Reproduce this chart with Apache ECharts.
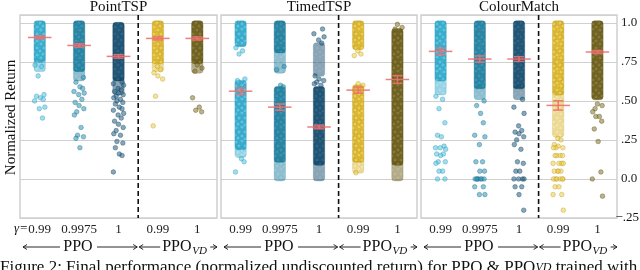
<!DOCTYPE html>
<html><head><meta charset="utf-8">
<script src="https://cdn.jsdelivr.net/npm/echarts@6.0.0/dist/echarts.min.js"></script>
<style>html,body{margin:0;padding:0;background:#fff}#c{width:640px;height:270px}</style>
</head><body><div id="c"></div>
<script>
// ---------- data ----------
const categories = ['0.99', '0.9975', '1', '0.99', '1'];
const panelTitles = ['PointTSP', 'TimedTSP', 'ColourMatch'];
const yTicks = [-0.25, 0, 0.25, 0.5, 0.75, 1.0];
const yTickLabels = ['−.25', '0.0', '.25', '.50', '.75', '1.0'];

// PointTSP
const pointMeans = [0.906, 0.855, 0.785, 0.90, 0.90];
const pointErr = [0.01, 0.011, 0.011, 0.01, 0.01];
const pointDense = [[[0.76, 1.0]], [[0.70, 1.0]], [[0.64, 0.99]], [[0.75, 1.0]], [[0.75, 1.0]]];
const pointMedium = [[[0.70, 0.76]], [[0.64, 0.70]], [[0.55, 0.64]], [[0.70, 0.75]], [[0.69, 0.75]]];
const pointSparse = [
  [0.73, 0.72, 0.66, 0.54, 0.53, 0.52, 0.51, 0.50, 0.46, 0.45, 0.39],
  [0.65, 0.62, 0.59, 0.58, 0.56, 0.55, 0.54, 0.51, 0.49, 0.47, 0.45, 0.43, 0.41, 0.33, 0.28, 0.27, 0.26, 0.20],
  [0.62, 0.61, 0.60, 0.58, 0.57, 0.56, 0.55, 0.54, 0.53, 0.52, 0.51, 0.50, 0.49, 0.48, 0.46, 0.45, 0.44, 0.42, 0.41, 0.39, 0.37, 0.35, 0.33, 0.31, 0.29, 0.28, 0.24, 0.23, 0.20, 0.16, 0.15, 0.045],
  [0.72, 0.70, 0.68, 0.66, 0.64, 0.53, 0.34],
  [0.73, 0.71, 0.69, 0.52, 0.46, 0.44, 0.43]
];

// TimedTSP
const timedMeans = [0.562, 0.46, 0.333, 0.569, 0.637];
const timedErr = [0.02, 0.02, 0.012, 0.02, 0.025];
const timedDense = [[[0.86, 1.0], [0.20, 0.62]], [[0.82, 1.0], [0.12, 0.58]], [[0.10, 0.58]], [[0.84, 1.0], [0.12, 0.59]], [[0.10, 0.95]]];
const timedMedium = [[[0.15, 0.20]], [[0.69, 0.82], [0.0, 0.12]], [[0.67, 0.86], [0.0, 0.10]], [[0.05, 0.12]], [[0.0, 0.10]]];
const timedSparse = [
  [0.84, 0.82, 0.80, 0.64, 0.63, 0.13, 0.11, 0.045],
  [0.72, 0.70, 0.60, 0.59],
  [0.96, 0.93, 0.91, 0.89, 0.87, 0.66, 0.64, 0.63, 0.62, 0.61, 0.60],
  [0.82, 0.80, 0.79, 0.61, 0.60, 0.04],
  [0.99, 0.97, 0.96]
];

// ColourMatch
const colourMeans = [0.817, 0.768, 0.768, 0.471, 0.813];
const colourErr = [0.02, 0.02, 0.015, 0.03, 0.01];
const colourDense = [[[0.64, 1.0]], [[0.59, 1.0]], [[0.59, 1.0]], [[0.55, 1.0]], [[0.52, 1.0]]];
const colourMedium = [[[0.55, 0.64]], [[0.52, 0.59]], [[0.52, 0.59]], [[0.28, 0.55]], []];
const colourSparse = [
  [0.53, 0.51, 0.45, 0.36, 0.28, 0.27, 0.21, 0.20, 0.19, 0.20, 0.16, 0.16, 0.15, 0.11, 0.11, 0.10, 0.05, 0.05, 0.0, 0.0],
  [0.50, 0.47, 0.42, 0.36, 0.28, 0.27, 0.22, 0.11, 0.11, 0.05, 0.05, 0.0, 0.0, 0.0, 0.0, 0.0, 0.0, 0.0, -0.05, -0.05, -0.10, -0.10],
  [0.51, 0.46, 0.42, 0.34, 0.31, 0.30, 0.29, 0.27, 0.25, 0.22, 0.19, 0.11, 0.10, 0.05, 0.05, 0.0, 0.0, 0.0, 0.0, -0.05, -0.05, -0.10, -0.20],
  [0.26, 0.25, 0.22, 0.21, 0.20, 0.20, 0.20, 0.15, 0.15, 0.15, 0.15, 0.10, 0.10, 0.10, 0.10, 0.05, 0.05, 0.05, 0.05, 0.0, 0.0, 0.0, 0.0, 0.0, 0.0, -0.05, -0.05, -0.10, -0.10, -0.20],
  [0.48, 0.47, 0.45, 0.43, 0.40, 0.40, 0.37, 0.32, 0.24, 0.045, 0.0, -0.11]
];

// ---------- style ----------
const SERIF = '"Liberation Serif", "DejaVu Serif", serif';
const faceColors = ['#52c3e0', '#2d93b4', '#215f84', '#efcd45', '#83742a'];
const edgeColors = ['#2693b5', '#1a6d8a', '#123f5a', '#b8961c', '#564a12'];
const denseColors = ['#33abcd', '#2482a1', '#1a4f70', '#dfb930', '#6d5e1c'];
const jitter = [-0.12, 0.05, -0.04, 0.11, -0.08, 0.02, 0.09, -0.13, 0.13, -0.01, 0.07, -0.10, 0.0, 0.12, -0.06];
const BAND_HW = 0.145;

// dotted texture patterns for dense strips
const dotSpots = [[2, 2], [8, 1], [5, 6], [11, 6], [1, 9], [8, 10], [4, 12], [11, 13]];
const patterns = denseColors.map((c, i) => {
  const cv = document.createElement('canvas');
  cv.width = 13; cv.height = 14;
  const ctx = cv.getContext('2d');
  ctx.fillStyle = c; ctx.fillRect(0, 0, 13, 14);
  dotSpots.forEach(([x, y]) => {
    ctx.beginPath(); ctx.arc(x, y, 2.1, 0, Math.PI * 2);
    ctx.fillStyle = faceColors[i]; ctx.globalAlpha = 0.85; ctx.fill();
    ctx.globalAlpha = 0.8; ctx.lineWidth = 0.7; ctx.strokeStyle = edgeColors[i]; ctx.stroke();
    ctx.globalAlpha = 1;
  });
  return {type: 'pattern', image: cv, repeat: 'repeat'};
});

const panels = [
  {title: panelTitles[0], means: pointMeans, err: pointErr, dense: pointDense, medium: pointMedium, sparse: pointSparse},
  {title: panelTitles[1], means: timedMeans, err: timedErr, dense: timedDense, medium: timedMedium, sparse: timedSparse},
  {title: panelTitles[2], means: colourMeans, err: colourErr, dense: colourDense, medium: colourMedium, sparse: colourSparse}
];
const gridLeft = [20, 221, 421], gridWidth = [197, 196, 196], gridTop = 15, gridHeight = 203;

function bandItem(params, api) {
  const i = api.value(0), lo = api.value(1), hi = api.value(2), full = api.value(3);
  const a = api.coord([i - BAND_HW, hi]), b = api.coord([i + BAND_HW, lo]);
  return {type: 'rect', shape: {x: a[0], y: a[1] - 2, width: b[0] - a[0], height: b[1] - a[1] + 4, r: 3},
    style: {fill: patterns[i], opacity: full ? 0.95 : 0.5, stroke: edgeColors[i], lineWidth: 0.6, strokeOpacity: 0.6}};
}
function dashItem(params, api) {
  const x = api.value(0);
  const a = api.coord([x, 1.05]), b = api.coord([x, -0.25]);
  return {type: 'line', shape: {x1: a[0], y1: a[1], x2: b[0], y2: b[1]},
    style: {stroke: '#111', lineWidth: 1.6, lineDash: [5, 3]}};
}
function meanItem(params, api) {
  const i = api.value(0), m = api.value(1), e = api.value(2);
  const l = api.coord([i - 0.3, m]), r = api.coord([i + 0.3, m]);
  const t = api.coord([i, m + e]), b = api.coord([i, m - e]);
  const cl = api.coord([i - 0.13, m]), cr = api.coord([i + 0.13, m]);
  const st = {stroke: '#f07070', lineWidth: 1.5, opacity: 0.9};
  return {type: 'group', children: [
    {type: 'line', shape: {x1: l[0], y1: l[1], x2: r[0], y2: r[1]}, style: st},
    {type: 'line', shape: {x1: t[0], y1: t[1], x2: b[0], y2: b[1]}, style: st},
    {type: 'line', shape: {x1: cl[0], y1: t[1], x2: cr[0], y2: t[1]}, style: st},
    {type: 'line', shape: {x1: cl[0], y1: b[1], x2: cr[0], y2: b[1]}, style: st}
  ]};
}

const grids = [], xAxes = [], yAxes = [], series = [], titles = [];
panels.forEach((p, g) => {
  grids.push({left: gridLeft[g], width: gridWidth[g], top: gridTop, height: gridHeight, show: true,
    borderColor: '#cfcfcf', borderWidth: 1.5, backgroundColor: 'transparent', outerBoundsMode: 'none', containLabel: false});
  xAxes.push({type: 'category', gridIndex: g, data: categories, boundaryGap: true,
    axisLine: {show: false}, axisTick: {show: false}, splitLine: {show: false},
    axisLabel: {margin: 5, fontSize: 13, fontFamily: SERIF, color: '#222', interval: 0}});
  xAxes.push({type: 'value', gridIndex: g, min: -0.5, max: 4.5, show: false, splitLine: {show: false}});
  yAxes.push({type: 'value', gridIndex: g, min: -0.25, max: 1.05, interval: 0.25, position: 'right',
    axisLine: {show: false}, axisTick: {show: false},
    splitLine: {show: true, lineStyle: {color: '#d0d0d0', width: 1.1}},
    axisLabel: {show: g === 2, margin: 4, fontSize: 13, fontFamily: SERIF, color: '#222',
      formatter: v => {
        const k = yTicks.findIndex(t => Math.abs(t - v) < 1e-6);
        return (k > 0) ? yTickLabels[k] : '';
      }}});
  titles.push({text: p.title, left: gridLeft[g] + gridWidth[g] / 2, top: 0, padding: 0, textAlign: 'center',
    textStyle: {fontFamily: SERIF, fontSize: 15, fontWeight: 'normal', color: '#111'}});

  const bandData = [];
  p.medium.forEach((bs, i) => bs.forEach(b => bandData.push([i, b[0], b[1], 0])));
  p.dense.forEach((bs, i) => bs.forEach(b => bandData.push([i, b[0], b[1], 1])));
  series.push({type: 'custom', xAxisIndex: 2 * g + 1, yAxisIndex: g, z: 2, silent: true,
    renderItem: bandItem, data: bandData, animation: false});
  p.sparse.forEach((vals, i) => {
    series.push({type: 'scatter', xAxisIndex: 2 * g + 1, yAxisIndex: g, z: 3, silent: true, animation: false,
      symbolSize: 4.6,
      itemStyle: {color: faceColors[i], borderColor: edgeColors[i], borderWidth: 0.7, opacity: 0.55},
      data: vals.map((v, k) => [i + jitter[(k + i * 3) % jitter.length], v])});
  });
  series.push({type: 'custom', xAxisIndex: 2 * g + 1, yAxisIndex: g, z: 4, silent: true, animation: false,
    renderItem: dashItem, data: [[2.5]]});
  series.push({type: 'custom', xAxisIndex: 2 * g + 1, yAxisIndex: g, z: 5, silent: true, animation: false,
    renderItem: meanItem, data: p.means.map((m, i) => [i, m, p.err[i]])});
});

const chart = echarts.init(document.getElementById('c'), null, {renderer: 'canvas'});
chart.setOption({animation: false, title: titles, grid: grids, xAxis: xAxes, yAxis: yAxes, series: series});

// ---------- annotation graphics ----------
const INK = '#111';
function txt(text, x, y, size, align, extra) {
  return {type: 'text', x: x, y: y, silent: true,
    style: Object.assign({text: text, font: size + 'px ' + SERIF, fill: INK,
      align: align, textAlign: align, verticalAlign: 'middle', textVerticalAlign: 'middle'}, (extra || {}))};
}
function hline(x1, x2, y) {
  return {type: 'line', silent: true, shape: {x1: x1, y1: y, x2: x2, y2: y}, style: {stroke: INK, lineWidth: 0.9}};
}
function headL(x, y) {
  return {type: 'polyline', silent: true, shape: {points: [[x + 4, y - 2.5], [x, y], [x + 4, y + 2.5]]}, style: {stroke: INK, lineWidth: 0.9, fill: null}};
}
function headR(x, y) {
  return {type: 'polyline', silent: true, shape: {points: [[x - 4, y - 2.5], [x, y], [x - 4, y + 2.5]]}, style: {stroke: INK, lineWidth: 0.9, fill: null}};
}
const els = [];
const AY = 247;
gridLeft.forEach((L, g) => {
  const W = gridWidth[g];
  const split = L + W * 3 / 5;
  els.push(hline(L + 3, L + 40, AY), headL(L + 3, AY));
  els.push(txt('PPO', L + 58, AY, 16, 'center'));
  els.push(hline(L + 77, split - 1, AY), headR(split - 1, AY));
  els.push(hline(split + 1, split + 22, AY), headL(split + 1, AY));
  els.push(txt('PPO', split + 24, AY, 16, 'left'));
  els.push(txt('VD', split + 54, AY + 4, 11, 'left', {font: 'italic 11px ' + SERIF}));
  els.push(hline(split + 72, L + W, AY), headR(L + W, AY));
});
els.push(txt('γ=', 28, 229, 13, 'right', {font: 'italic 13px ' + SERIF}));
els.push(Object.assign(txt('Normalized Return', 11, gridTop + gridHeight / 2 + 1, 15, 'center'), {rotation: Math.PI / 2}));
const yLow = chart.convertToPixel({yAxisIndex: 2}, -0.25);
els.push(txt(yTickLabels[0], 639, yLow, 13, 'right'));
els.push({type: 'text', x: 0, y: 259, silent: true, style: {
  text: 'Figure 2: Final performance (normalized undiscounted return) for PPO & PPO{s|VD} trained with',
  font: '17px ' + SERIF, fill: INK, align: 'left', verticalAlign: 'top',
  rich: {s: {fontSize: 12, fontStyle: 'italic', fontFamily: SERIF}}}});
chart.setOption({graphic: {elements: els}});
</script>
</body></html>
